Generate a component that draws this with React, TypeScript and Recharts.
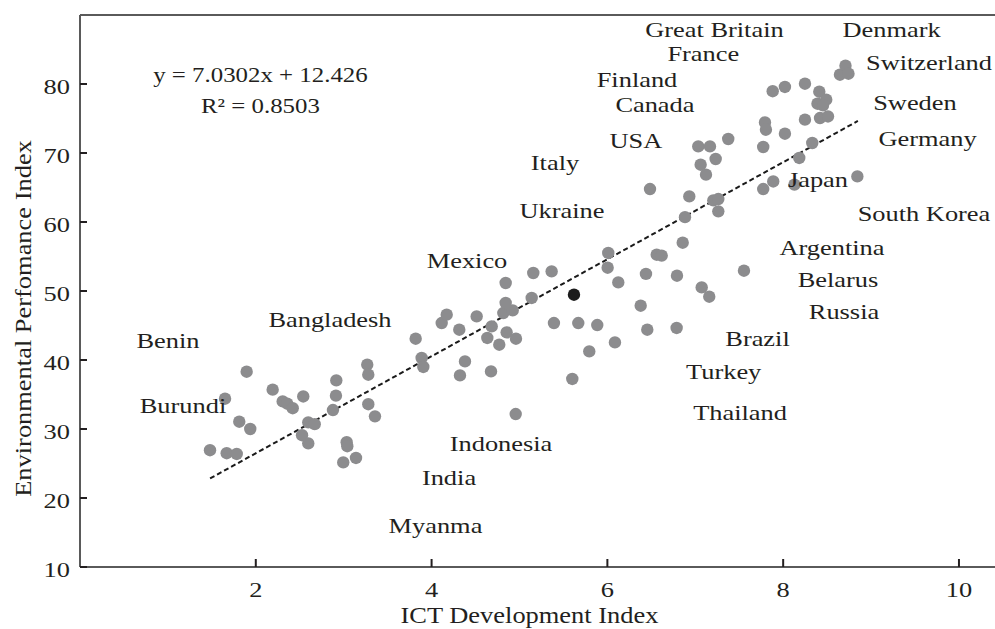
import React from 'react';
import { ScatterChart, Scatter, XAxis, YAxis, ReferenceLine } from 'recharts';

// ---- data ----
const ictIndex = [
  1.479, 1.669, 1.783, 1.65, 1.896, 1.812, 1.937, 2.192, 2.306, 2.358, 2.42, 2.54, 2.597, 2.67, 2.526,
  2.597, 2.916, 2.912, 2.878, 3.034, 3.041, 2.995, 3.14, 3.268, 3.28, 3.28, 3.356, 3.819, 3.887, 3.906,
  4.115, 4.172, 4.315, 4.323, 4.38, 4.513, 4.634, 4.684, 4.676, 4.77, 4.816, 4.923, 4.843, 4.843, 4.854,
  4.96, 4.957, 5.139, 5.157, 5.366, 5.392, 5.601, 5.669, 5.794, 5.885, 6.003, 6.01, 6.086, 6.124, 6.379,
  6.439, 6.454, 6.485, 6.561, 6.618, 6.788, 6.792, 6.857, 6.883, 6.932, 7.034, 7.073, 7.159, 7.061, 7.122,
  7.167, 7.205, 7.262, 7.262, 7.232, 7.375, 7.554, 7.773, 7.773, 7.793, 7.804, 7.881, 7.887, 8.02, 8.02,
  8.128, 8.183, 8.248, 8.248, 8.331, 8.411, 8.49, 8.39, 8.453, 8.419, 8.51, 8.646, 8.709, 8.743, 8.844,
];
const epiIndex = [
  26.93, 26.49, 26.38, 34.39, 38.3, 31.06, 30.0, 35.7, 34.0, 33.67, 33.01, 34.72, 30.96, 30.7, 29.1,
  27.91, 37.04, 34.83, 32.75, 28.09, 27.51, 25.16, 25.8, 39.32, 37.87, 33.59, 31.83, 43.09, 40.29, 38.99,
  45.36, 46.57, 44.39, 37.77, 39.8, 46.32, 43.19, 44.87, 38.35, 42.22, 46.81, 47.19, 48.26, 51.16, 44.0,
  43.09, 32.17, 48.99, 52.61, 52.84, 45.36, 37.25, 45.36, 41.25, 45.07, 53.38, 55.51, 42.55, 51.25, 47.87,
  52.48, 44.39, 64.78, 55.26, 55.12, 44.64, 52.22, 57.0, 60.7, 63.71, 70.96, 50.52, 49.17, 68.3, 66.86,
  70.96, 63.13, 63.33, 61.54, 69.13, 72.03, 52.94, 70.87, 64.78, 74.43, 73.38, 78.96, 65.88, 79.57, 72.8,
  65.41, 69.28, 80.04, 74.83, 71.45, 78.88, 77.72, 77.14, 76.9, 75.07, 75.3, 81.35, 82.65, 81.49, 66.61,
];
const highlightIct = [5.62];
const highlightEpi = [49.46];

const trendIct = [1.48, 8.85];
const trendEpi = [22.83, 74.64];

const xTicks = [2, 4, 6, 8, 10];
const yTicks = [10, 20, 30, 40, 50, 60, 70, 80];

const countryNames = [
  'Great Britain', 'Denmark', 'France', 'Switzerland', 'Finland', 'Canada', 'Sweden', 'USA', 'Germany',
  'Japan', 'South Korea', 'Italy', 'Ukraine', 'Mexico', 'Argentina', 'Belarus', 'Russia', 'Bangladesh',
  'Benin', 'Brazil', 'Turkey', 'Thailand', 'Burundi', 'Indonesia', 'India', 'Myanma',
];
const countryIct = [
  7.218, 9.234, 7.091, 9.659, 6.337, 6.541, 9.499, 6.325, 9.642,
  8.396, 9.602, 5.404, 5.483, 4.403, 8.555, 8.623, 8.692, 2.844,
  1.001, 7.708, 7.323, 7.509, 1.172, 4.79, 4.198, 4.044,
];
const countryEpi = [
  86.81, 86.81, 83.28, 82.07, 79.57, 75.88, 76.28, 70.72, 70.96,
  65.12, 60.19, 67.58, 60.62, 53.33, 55.26, 50.52, 45.99, 44.78,
  41.78, 42.07, 37.25, 31.35, 32.36, 26.75, 21.93, 14.97,
];

const equationLines = ['y = 7.0302x + 12.426', 'R² = 0.8503'];
const equationIct = [2.053, 2.053];
const equationEpi = [80.23, 75.8];

// ---- styling ----
const FONT = '"Liberation Serif", "Times New Roman", serif';
const INK = '#231f20';
const GRAY = '#8c8c8e';
const AXIS = '#5a5a5a';

const grayPoints = ictIndex.map((x, i) => ({ x, y: epiIndex[i] }));
const blackPoints = highlightIct.map((x, i) => ({ x, y: highlightEpi[i] }));
const countryLabels = countryNames.map((name, i) => ({ name, x: countryIct[i], y: countryEpi[i] }));
const equationLabels = equationLines.map((name, i) => ({ name, x: equationIct[i], y: equationEpi[i] }));

function SerifText(props: any) {
  const { x, y, anchor = 'middle', size = 22, sx = 1.2, rotate = 0, children } = props;
  const t = `translate(${x},${y})${rotate ? ` rotate(${rotate})` : ''} scale(${sx},1)`;
  return (
    <text transform={t} x={0} y={0} textAnchor={anchor} fontFamily={FONT} fontSize={size} fill={INK}>
      {children}
    </text>
  );
}

function XTick(props: any) {
  const { x, y, payload } = props;
  return (
    <g>
      <line x1={x} y1={y} x2={x} y2={y - 8} stroke={INK} strokeWidth={2} />
      <SerifText x={x} y={y + 29.5}>{payload.value}</SerifText>
    </g>
  );
}

function YTick(props: any) {
  const { x, y, payload } = props;
  return (
    <g>
      <line x1={x} y1={y} x2={x + 7} y2={y} stroke={INK} strokeWidth={2} />
      <SerifText x={x - 10} y={y + 10} anchor="end">{payload.value}</SerifText>
    </g>
  );
}

export default function App() {
  return (
    <div style={{ position: 'absolute', left: 0, top: 0, width: 995, height: 629, background: '#fff' }}>
      <ScatterChart width={995} height={629} margin={{ top: 15, right: 0, bottom: 0, left: 0 }}>
        <XAxis
          type="number"
          dataKey="x"
          domain={[0, 10.41]}
          ticks={xTicks}
          height={62}
          tickSize={0}
          tickMargin={0}
          tickLine={false}
          axisLine={{ stroke: AXIS, strokeWidth: 2 }}
          tick={<XTick />}
          interval={0}
          allowDataOverflow
          label={{
            value: 'ICT Development Index',
            content: () => (
              <SerifText x={529.5} y={623} size={23} sx={1.15}>ICT Development Index</SerifText>
            ),
          }}
        />
        <YAxis
          type="number"
          dataKey="y"
          domain={[10, 90]}
          ticks={yTicks}
          width={80}
          tickSize={0}
          tickMargin={0}
          tickLine={false}
          axisLine={{ stroke: AXIS, strokeWidth: 2 }}
          tick={<YTick />}
          interval={0}
          allowDataOverflow
          label={{
            value: 'Environmental Perfomance Index',
            content: () => (
              <SerifText x={31} y={318.5} size={23} sx={1.15} rotate={-90}>
                Environmental Perfomance Index
              </SerifText>
            ),
          }}
        />
        <ReferenceLine y={90} stroke={AXIS} strokeWidth={2} />
        <Scatter
          data={grayPoints}
          isAnimationActive={false}
          shape={(p: any) => <circle cx={p.cx} cy={p.cy} r={6.2} fill={GRAY} />}
        />
        <Scatter
          data={blackPoints}
          isAnimationActive={false}
          shape={(p: any) => <circle cx={p.cx} cy={p.cy} r={6.2} fill="#1c1c1c" />}
        />
        <ReferenceLine
          segment={[
            { x: trendIct[0], y: trendEpi[0] },
            { x: trendIct[1], y: trendEpi[1] },
          ]}
          stroke="#1a1a1a"
          strokeWidth={2}
          strokeDasharray="5 3"
        />
        <Scatter
          data={countryLabels}
          isAnimationActive={false}
          shape={(p: any) => <SerifText x={p.cx} y={p.cy}>{p.payload.name}</SerifText>}
        />
        <Scatter
          data={equationLabels}
          isAnimationActive={false}
          shape={(p: any) => <SerifText x={p.cx} y={p.cy} sx={1.13}>{p.payload.name}</SerifText>}
        />
      </ScatterChart>
    </div>
  );
}
